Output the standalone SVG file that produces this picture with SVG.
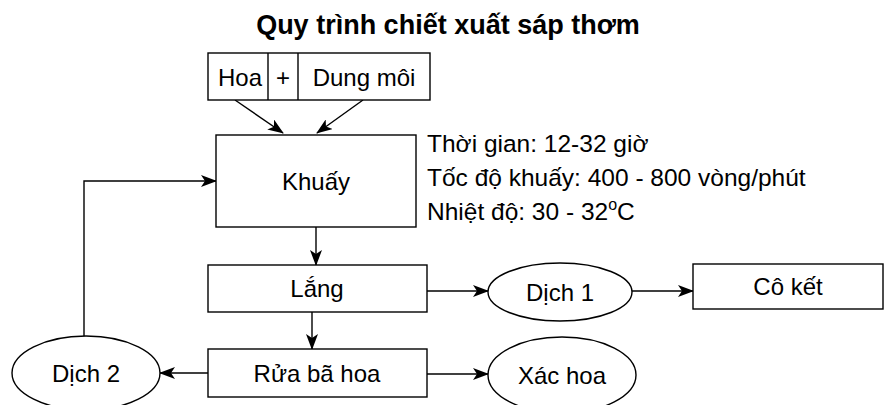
<svg xmlns="http://www.w3.org/2000/svg" width="889" height="405" viewBox="0 0 889 405">
<style>
text{font-family:"Liberation Sans",Arial,sans-serif;font-size:24px;fill:#000}
.c{text-anchor:middle}
.i{font-size:24.5px}
.n{fill:#fff;stroke:#000;stroke-width:1.4}
.e{fill:none;stroke:#000;stroke-width:1.4}
</style>
<defs>
<marker id="ah" markerUnits="userSpaceOnUse" markerWidth="16" markerHeight="12" refX="15" refY="6" orient="auto">
<path d="M0,0 L16,6 L0,12 L4,6 Z" fill="#000"/>
</marker>
</defs>
<text id="title" x="448" y="34" class="c" style="font-weight:bold;font-size:27px">Quy trình chiết xuất sáp thơm</text>
<g id="connectors">
<path class="e" d="M235,100 L283,133" marker-end="url(#ah)"/>
<path class="e" d="M363,100 L317,133" marker-end="url(#ah)"/>
<path class="e" d="M316,227 L316,265" marker-end="url(#ah)"/>
<path class="e" d="M312,312 L312,349" marker-end="url(#ah)"/>
<path class="e" d="M427,291 L488,291" marker-end="url(#ah)"/>
<path class="e" d="M632,291 L693,291" marker-end="url(#ah)"/>
<path class="e" d="M208,373 L160,373" marker-end="url(#ah)"/>
<path class="e" d="M427,374 L488,374" marker-end="url(#ah)"/>
<path class="e" d="M84,336 L84,181 L216,181" marker-end="url(#ah)"/>
</g>
<g id="input">
<rect class="n" x="208" y="53" width="222" height="47"/>
<line class="e" x1="268" y1="53" x2="268" y2="100"/>
<line class="e" x1="298" y1="53" x2="298" y2="100"/>
<text x="240" y="86" class="c">Hoa</text>
<text x="283" y="86" class="c">+</text>
<text x="364" y="86" class="c">Dung môi</text>
</g>
<g id="khuay">
<rect class="n" x="216" y="135" width="200" height="92"/>
<text x="316" y="190" class="c">Khuấy</text>
</g>
<g id="info">
<text x="427" y="152" class="i">Thời gian: 12-32 giờ</text>
<text x="427" y="186" class="i">Tốc độ khuấy: 400 - 800 vòng/phút</text>
<text x="427" y="220" class="i">Nhiệt độ: 30 - 32<tspan dy="-10" style="font-size:16px">o</tspan><tspan dy="10">C</tspan></text>
</g>
<g id="lang">
<rect class="n" x="208" y="265" width="219" height="47"/>
<text x="317" y="297" class="c">Lắng</text>
</g>
<g id="rua">
<rect class="n" x="208" y="349" width="219" height="48"/>
<text x="317" y="382" class="c">Rửa bã hoa</text>
</g>
<g id="dich1">
<ellipse class="n" cx="560" cy="292" rx="72" ry="29"/>
<text x="560" y="301" class="c">Dịch 1</text>
</g>
<g id="cotket">
<rect class="n" x="693" y="264" width="190" height="45"/>
<text x="788" y="295" class="c">Cô kết</text>
</g>
<g id="dich2">
<ellipse class="n" cx="86" cy="373" rx="74" ry="37"/>
<text x="86" y="382" class="c">Dịch 2</text>
</g>
<g id="xachoa">
<ellipse class="n" cx="562" cy="375" rx="74" ry="38"/>
<text x="562" y="384" class="c">Xác hoa</text>
</g>
</svg>
